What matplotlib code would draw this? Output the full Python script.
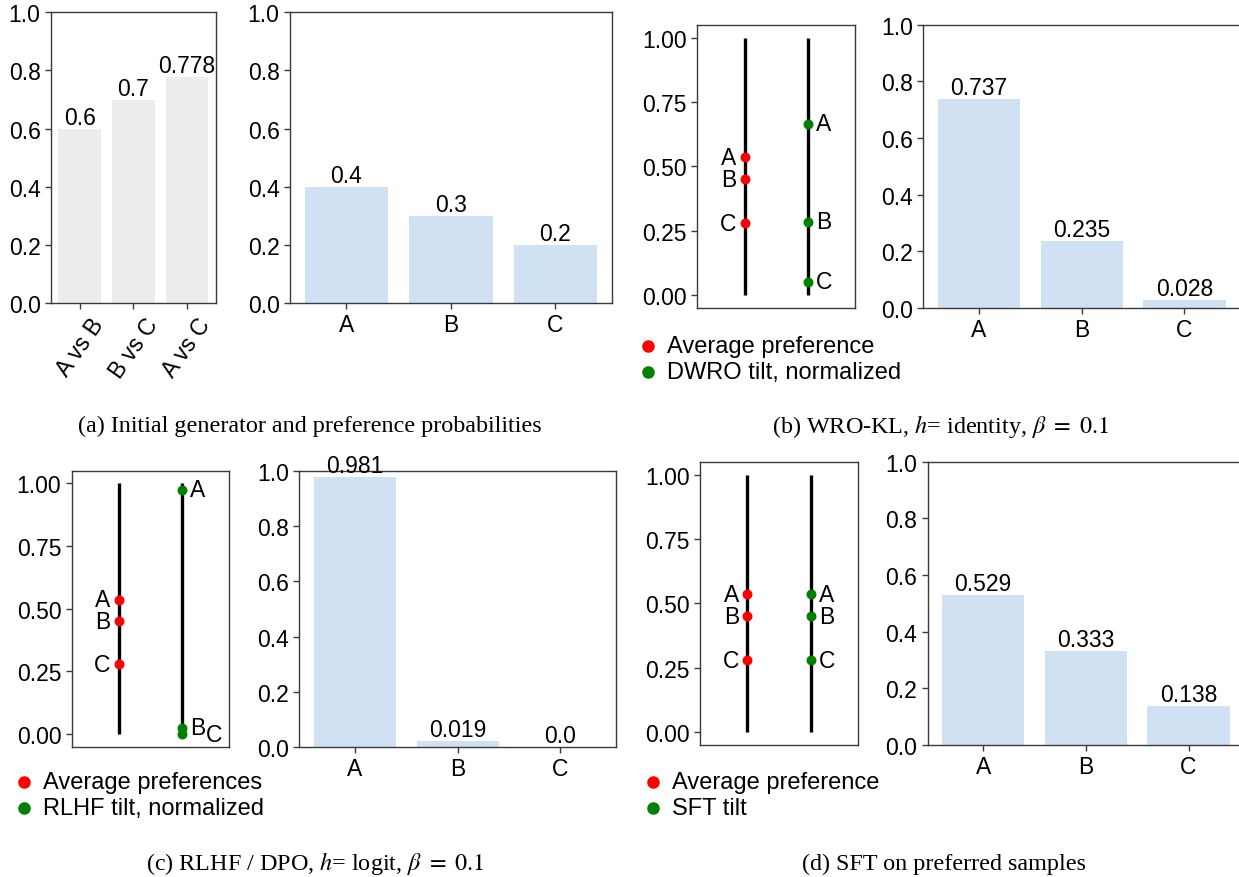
import matplotlib
matplotlib.use("Agg")
import matplotlib.pyplot as plt

# ---------------- data ----------------
pair_labels = ["A vs B", "B vs C", "A vs C"]
pair_prob = [0.6, 0.7, 0.778]
responses = ["A", "B", "C"]
init_gen = [0.4, 0.3, 0.2]

avg_pref = [0.536, 0.450, 0.279]
dwro_tilt = [0.665, 0.284, 0.051]
dwro_policy = [0.737, 0.235, 0.028]
rlhf_tilt = [0.974, 0.026, 0.0003]
rlhf_policy = [0.981, 0.019, 0.0]
sft_tilt = [0.536, 0.450, 0.279]
sft_policy = [0.529, 0.333, 0.138]

captions = [
    "(a) Initial generator and preference probabilities",
    r"(b) WRO-KL, $h$= identity, $\beta\ =\ 0.1$",
    r"(c) RLHF / DPO, $h$= logit, $\beta\ =\ 0.1$",
    "(d) SFT on preferred samples",
]

# ---------------- style ----------------
plt.rcParams["font.family"] = ["Liberation Sans", "DejaVu Sans"]
plt.rcParams["mathtext.fontset"] = "stix"
FS = 16.5
SPINE = "#3a3a3a"
BLUE = "#cfe1f2"
GRAY = "#ececec"

W, H = 1239, 878
fig = plt.figure(figsize=(W / 100, H / 100), dpi=100)


def px_axes(x0, y0, x1, y1):
    return fig.add_axes([x0 / W, 1 - y1 / H, (x1 - x0) / W, (y1 - y0) / H])


def style(ax):
    for s in ax.spines.values():
        s.set_color(SPINE)
        s.set_linewidth(1.0)
    ax.tick_params(labelsize=FS, color=SPINE, width=1.0, length=4)


def bar_panel(ax, cats, vals, color):
    bars = ax.bar(cats, vals, width=0.8, color=color)
    ax.bar_label(bars, labels=[str(v) for v in vals], fontsize=FS, padding=0)
    ax.set_ylim(0, 1.0)
    ax.set_yticks([0, 0.2, 0.4, 0.6, 0.8, 1.0])
    style(ax)


def dot_panel(ax, left_vals, right_vals, right_dx=(6, 6, 6), right_label="", left_label="",
              legend_xy=(0, 0)):
    ax.vlines([0, 1], 0, 1, color="black", lw=2.4, zorder=1)
    h1 = ax.scatter([0] * len(left_vals), left_vals, s=38, color="red", zorder=3, label=left_label)
    h2 = ax.scatter([1] * len(right_vals), right_vals, s=38, color="green", zorder=3, label=right_label)
    for lab, v in zip(responses, left_vals):
        ax.annotate(lab, (0, v), xytext=(-6, 0), textcoords="offset points",
                    ha="right", va="center", fontsize=FS)
    for lab, v, dx in zip(responses, right_vals, right_dx):
        ax.annotate(lab, (1, v), xytext=(dx, 0), textcoords="offset points",
                    ha="left", va="center", fontsize=FS)
    ax.set_xlim(-0.75, 1.75)
    ax.set_ylim(-0.05, 1.05)
    ax.set_xticks([])
    ax.set_yticks([0, 0.25, 0.5, 0.75, 1.0])
    style(ax)
    fig.legend(handles=[h1, h2], loc="upper left",
               bbox_to_anchor=(legend_xy[0] / W, 1 - legend_xy[1] / H),
               frameon=False, borderpad=0, borderaxespad=0, fontsize=17,
               handlelength=0.8, handletextpad=0.4, labelspacing=0.18, markerscale=1.3)


# (a)
ax = px_axes(51, 13.3, 216, 304)
bar_panel(ax, pair_labels, pair_prob, GRAY)
ax.tick_params(axis="x", labelrotation=55)

ax = px_axes(290, 13.3, 611.7, 304)
bar_panel(ax, responses, init_gen, BLUE)

# (b)
ax = px_axes(697.3, 25.7, 855, 309)
dot_panel(ax, avg_pref, dwro_tilt, left_label="Average preference",
          right_label="DWRO tilt, normalized", legend_xy=(639, 336))
ax = px_axes(923.3, 25.7, 1240, 309)
bar_panel(ax, responses, dwro_policy, BLUE)

# (c)
ax = px_axes(71.7, 471.7, 229.3, 747.7)
dot_panel(ax, avg_pref, rlhf_tilt, right_dx=(6, 6, 17), left_label="Average preferences",
          right_label="RLHF tilt, normalized", legend_xy=(15, 772))
ax = px_axes(299.3, 472.3, 616, 747.7)
bar_panel(ax, responses, rlhf_policy, BLUE)

# (d)
ax = px_axes(700, 462.7, 858.3, 746)
dot_panel(ax, avg_pref, sft_tilt, left_label="Average preference",
          right_label="SFT tilt", legend_xy=(644, 772))
ax = px_axes(927.7, 462.7, 1244, 746)
bar_panel(ax, responses, sft_policy, BLUE)

# captions
cap_pos = [(310, 426), (941, 426), (315, 864), (944, 864)]
for (cx, cy), txt in zip(cap_pos, captions):
    fig.text(cx / W, 1 - cy / H, txt, ha="center", va="center", fontsize=17.4,
             family=["Liberation Serif", "DejaVu Serif"])

fig.savefig("out.png", dpi=100)
